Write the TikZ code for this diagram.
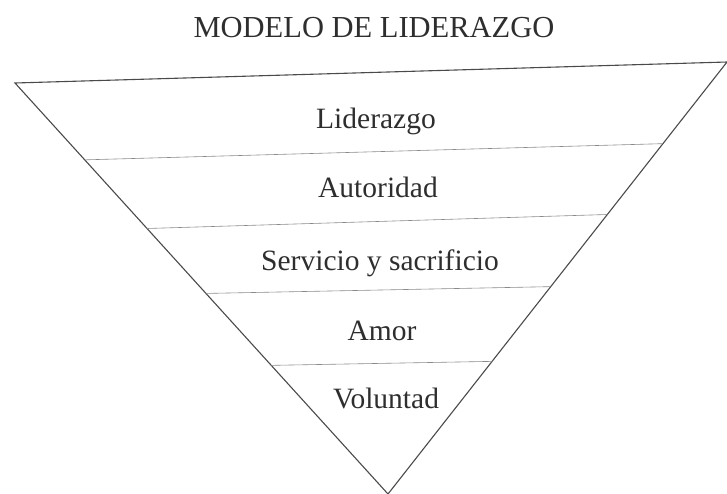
\documentclass[tikz,border=0pt]{standalone}
\usepackage{fontspec}
\setmainfont{Liberation Serif}
\usetikzlibrary{calc}
\definecolor{ink}{HTML}{2E2E2E}
\definecolor{edgegray}{HTML}{4A4A4A}
\definecolor{rulegray}{HTML}{8A8A8A}
\tikzset{
	side/.style={draw=edgegray,line width=1.1pt,line join=miter},
	band/.style={draw=rulegray,line width=0.6pt},
	level/.style={anchor=base,text=ink,font=\fontsize{29.5}{32}\selectfont,inner sep=0pt}
}
\begin{document}
\begin{tikzpicture}[x=1pt,y=-1pt]
		\useasboundingbox (0,0) rectangle (727,493);
		\node (title) [level,font=\fontsize{30.5}{34}\selectfont] at (374,37) {MODELO DE LIDERAZGO};
		\coordinate (tl) at (15,83);
		\coordinate (tr) at (727,62);
		\coordinate (apex) at (388,494);
		\draw [side] (tl) -- (tr) -- (apex) -- cycle;
		\draw [band] ($(tl)!0.187!(apex)$) -- ($(tr)!0.189!(apex)$);
		\draw [band] ($(tl)!0.354!(apex)$) -- ($(tr)!0.353!(apex)$);
		\draw [band] ($(tl)!0.512!(apex)$) -- ($(tr)!0.520!(apex)$);
		\draw [band] ($(tl)!0.687!(apex)$) -- ($(tr)!0.693!(apex)$);
		\node (lid) [level] at (376,128) {Liderazgo};
		\node (aut) [level] at (378,197) {Autoridad};
		\node (ser) [level] at (380,270) {Servicio y sacrificio};
		\node (amo) [level] at (382,340) {Amor};
		\node (vol) [level] at (386,408) {Voluntad};
	\end{tikzpicture}
\end{document}
